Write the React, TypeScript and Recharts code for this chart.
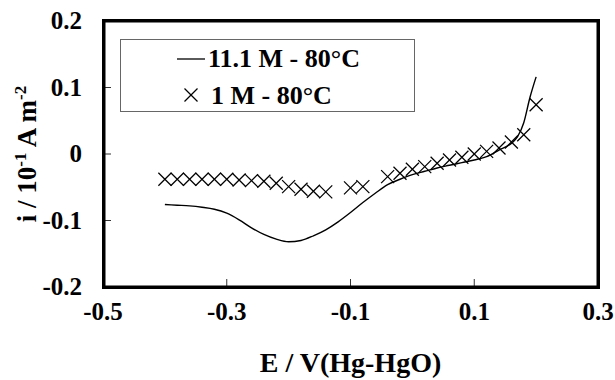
import { ComposedChart, Line, Scatter, XAxis, YAxis, Legend } from "recharts";

// 11.1 M - 80 C (solid line)
const potentialHigh = [
  -0.4, -0.38, -0.36, -0.34, -0.32, -0.3, -0.28, -0.26, -0.24, -0.22, -0.2, -0.18, -0.16, -0.14, -0.12, -0.1,
  -0.08, -0.06, -0.04, -0.02, 0, 0.02, 0.04, 0.06, 0.08, 0.1, 0.12, 0.14, 0.16, 0.17, 0.18, 0.19, 0.2,
];
const currentHigh = [
  -0.076, -0.077, -0.078, -0.08, -0.083, -0.089, -0.099, -0.111, -0.121, -0.128, -0.132, -0.13, -0.123, -0.114,
  -0.102, -0.088, -0.073, -0.059, -0.046, -0.038, -0.031, -0.026, -0.021, -0.017, -0.013, -0.009, -0.004, 0.006,
  0.016, 0.026, 0.047, 0.085, 0.116,
];

// 1 M - 80 C (crosses)
const potentialLow = [
  -0.4, -0.38, -0.36, -0.34, -0.32, -0.3, -0.28, -0.26, -0.24, -0.22, -0.2, -0.18, -0.16, -0.14, -0.1, -0.08,
  -0.04, -0.02, 0, 0.02, 0.04, 0.06, 0.08, 0.1, 0.12, 0.14, 0.16, 0.18, 0.2,
];
const currentLow = [
  -0.038, -0.038, -0.038, -0.038, -0.038, -0.038, -0.039, -0.04, -0.041, -0.044, -0.049, -0.053, -0.056, -0.057,
  -0.051, -0.049, -0.034, -0.029, -0.023, -0.019, -0.014, -0.009, -0.005, 0, 0.004, 0.009, 0.018, 0.029, 0.074,
];

const xTicks = [-0.5, -0.3, -0.1, 0.1, 0.3];
const yTicks = [-0.2, -0.1, 0, 0.1, 0.2];

const lineData = potentialHigh.map((E, k) => ({ E, i: currentHigh[k] }));
const crossData = potentialLow.map((E, k) => ({ E, i: currentLow[k] }));

const FONT = "'Liberation Serif', 'Times New Roman', serif";

const Cross = (props: any) => {
  const { cx, cy } = props;
  const r = 6.5;
  return (
    <g stroke="#000" strokeWidth={1.3}>
      <line x1={cx - r} y1={cy - r} x2={cx + r} y2={cy + r} />
      <line x1={cx - r} y1={cy + r} x2={cx + r} y2={cy - r} />
    </g>
  );
};

const XTick = (props: any) => {
  const { x, y, payload } = props;
  const edge = payload.value === -0.5 || payload.value === 0.3;
  return (
    <g>
      {!edge && <path d={`M${x},${y - 1}L${x},${y - 8}`} stroke="#333" strokeWidth={1} />}
      <text x={x} y={y + 33} textAnchor="middle" fontFamily={FONT} fontWeight="bold" fontSize={25} fill="#000">
        {payload.value}
      </text>
    </g>
  );
};

const YTick = (props: any) => {
  const { x, y, payload } = props;
  const edge = payload.value === -0.2 || payload.value === 0.2;
  return (
    <g>
      {!edge && <path d={`M${x + 1},${y}L${x + 8},${y}`} stroke="#333" strokeWidth={1} />}
      <text x={x - 21} y={y + 8} textAnchor="end" fontFamily={FONT} fontWeight="bold" fontSize={25} fill="#000">
        {payload.value}
      </text>
    </g>
  );
};

const renderLegend = () => (
  <div
    style={{
      position: "relative",
      width: 295,
      height: 73,
      boxSizing: "border-box",
      border: "1px solid #666",
      background: "#fff",
      fontFamily: FONT,
      fontWeight: "bold",
      fontSize: 26,
      color: "#000",
    }}
  >
    <svg width={30} height={10} style={{ position: "absolute", left: 56, top: 14 }}>
      <line x1={0} y1={5} x2={28} y2={5} stroke="#000" strokeWidth={1.3} />
    </svg>
    <span style={{ position: "absolute", left: 87, top: 4, lineHeight: "30px", whiteSpace: "nowrap" }}>
      11.1 M - 80°C
    </span>
    <svg width={16} height={16} style={{ position: "absolute", left: 62, top: 47 }}>
      <Cross cx={8} cy={8} />
    </svg>
    <span style={{ position: "absolute", left: 90, top: 41, lineHeight: "30px", whiteSpace: "nowrap" }}>
      1 M - 80°C
    </span>
  </div>
);

export default function App() {
  return (
    <div style={{ position: "absolute", left: 0, top: 0, width: 615, height: 380, background: "#fff" }}>
      <ComposedChart width={615} height={380} margin={{ top: 21, right: 17, left: 0, bottom: 0 }}>
        <XAxis
          type="number"
          dataKey="E"
          domain={[-0.5, 0.3]}
          ticks={xTicks}
          allowDataOverflow
          height={93}
          axisLine={false}
          tickLine={false}
          tickSize={0}
          tickMargin={0}
          tick={<XTick />}
          interval={0}
          label={{
            content: ({ viewBox }: any) => (
              <text
                x={viewBox.x + viewBox.width / 2}
                y={viewBox.y + 85}
                textAnchor="middle"
                fontFamily={FONT}
                fontWeight="bold"
                fontSize={28}
                fill="#000"
              >
                E / V(Hg-HgO)
              </text>
            ),
          }}
        />
        <YAxis
          type="number"
          domain={[-0.2, 0.2]}
          ticks={yTicks}
          allowDataOverflow
          width={103}
          axisLine={false}
          tickLine={false}
          tickSize={0}
          tickMargin={0}
          tick={<YTick />}
          interval={0}
          label={{
            content: () => (
              <text
                transform="translate(36,154) rotate(-90)"
                textAnchor="middle"
                fontFamily={FONT}
                fontWeight="bold"
                fontSize={27}
                fill="#000"
              >
                i / 10
                <tspan fontSize={17} dy={-10}>-1</tspan>
                <tspan dy={10}> A m</tspan>
                <tspan fontSize={17} dy={-10}>-2</tspan>
              </text>
            ),
          }}
        />
        <Line
          data={lineData}
          dataKey="i"
          type="monotone"
          stroke="#000"
          strokeWidth={1.4}
          dot={false}
          activeDot={false}
          isAnimationActive={false}
        />
        <Scatter data={crossData} dataKey="i" shape={<Cross />} isAnimationActive={false} />
        <Legend
          layout="horizontal"
          verticalAlign="middle"
          align="center"
          content={renderLegend}
          wrapperStyle={{ left: 120, top: 39, width: 295, height: 73 }}
        />
      </ComposedChart>
      {/* heavy plot frame around the plot area */}
      <svg
        width={615}
        height={380}
        style={{ position: "absolute", left: 0, top: 0, pointerEvents: "none" }}
      >
        <rect x={103.75} y={20.75} width={494.5} height={266.5} fill="none" stroke="#000" strokeWidth={3.5} />
      </svg>
    </div>
  );
}
